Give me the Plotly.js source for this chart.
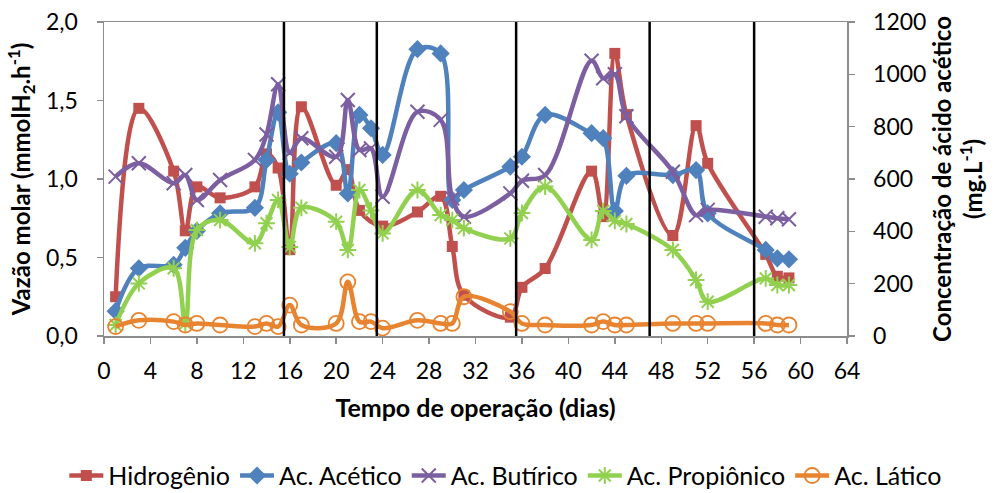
<!DOCTYPE html>
<html>
<head>
<meta charset="utf-8">
<script src="https://cdn.plot.ly/plotly-3.0.1.min.js"></script>
<style>
html,body{margin:0;padding:0;background:#fff;}
#chart{width:996px;height:493px;}
</style>
</head>
<body>
<div id="chart"></div>
<script>
// ---- Data ----
const daysH2 = [1,3,6,7,8,10,13,14,15,16,17,20,21,22,24,27,29,30,31,35,36,38,42,43,44,45,49,51,52,57,58,59];
const hidrogenio = [0.25,1.45,1.05,0.67,0.95,0.88,0.95,1.16,1.07,0.55,1.46,0.96,1.06,0.80,0.70,0.79,0.89,0.57,0.26,0.12,0.31,0.43,1.05,0.76,1.80,1.41,0.64,1.34,1.10,0.52,0.38,0.37];

const daysAc = [1,3,6,7,8,10,13,14,15,16,17,20,21,22,23,24,27,29,30,31,35,36,38,42,43,44,45,49,51,52,57,58,59];
const acetico   = [95,259,272,337,402,469,490,673,855,620,663,737,545,845,794,692,1096,1080,520,558,647,685,845,775,756,478,612,615,634,469,329,297,293];
const butirico  = [609,660,584,615,520,596,673,770,962,700,756,685,902,711,717,532,857,826,526,456,545,593,615,1052,985,1000,840,628,462,482,456,450,446];
const propionico= [42,201,259,48,405,443,354,431,520,340,490,437,329,558,480,392,558,462,443,412,373,470,571,367,478,440,428,329,214,131,220,195,195];
const latico    = [36,60,55,42,48,42,36,48,36,118,42,48,207,55,55,30,60,48,48,150,93,48,42,42,55,42,42,48,48,48,48,42,42];

const phaseLimits = [15.5,23.5,35.5,47,56];

const xTicks = [0,4,8,12,16,20,24,28,32,36,40,44,48,52,56,60,64];
const seriesNames = ['Hidrogênio','Ac. Acético','Ac. Butírico','Ac. Propiônico','Ac. Lático'];

// ---- Styles ----
const FONT = 'Lato, "Open Sans", sans-serif';
const colors = ['#C0504D','#4F81BD','#7C5FA0','#92D050','#E8832F'];
const LW = 4.5;
const TICK_SIZE = 23, TITLE_SIZE = 24, LEG_SIZE = 25;

function tr(x, y, i, yaxis, marker){
  return {
    x: x, y: y, name: seriesNames[i], type: 'scatter', mode: 'lines+markers',
    yaxis: yaxis,
    line: {color: colors[i], width: LW, shape: 'spline', smoothing: 1},
    marker: Object.assign({color: colors[i]}, marker),
    cliponaxis: false
  };
}

const data = [
  tr(daysH2, hidrogenio, 0, 'y', {symbol: 'square', size: 11}),
  tr(daysAc, acetico, 1, 'y2', {symbol: 'diamond', size: 14}),
  tr(daysAc, butirico, 2, 'y2', {symbol: 'x-thin-open', size: 14, line: {color: colors[2], width: 2}}),
  tr(daysAc, propionico, 3, 'y2', {symbol: 'asterisk-open', size: 14, line: {color: colors[3], width: 2}}),
  tr(daysAc, latico, 4, 'y2', {symbol: 'circle-open', size: 15, line: {color: colors[4], width: 1.8}})
];

const shapes = phaseLimits.map(v => ({
  type: 'line', xref: 'x', yref: 'paper', x0: v, x1: v, y0: 0, y1: 1,
  line: {color: '#000', width: 2.5}, layer: 'above'
}));

const axisLine = '#8C8C8C';
const layout = {
  width: 996, height: 493,
  margin: {l: 104, r: 149, t: 22, b: 157, autoexpand: false},
  paper_bgcolor: '#fff', plot_bgcolor: '#fff',
  separators: ', ',
  font: {family: FONT, size: TICK_SIZE, color: '#000'},
  showlegend: true,
  legend: {
    orientation: 'h', xref: 'paper', yref: 'paper',
    x: 1.135, xanchor: 'right', y: -0.445, yanchor: 'middle',
    font: {family: FONT, size: LEG_SIZE, color: '#000'},
    itemwidth: 34, tracegroupgap: 0, bgcolor: 'rgba(0,0,0,0)'
  },
  xaxis: {
    range: [0, 64], tickvals: xTicks, ticktext: xTicks.map(String),
    showgrid: false, zeroline: false,
    showline: true, linecolor: axisLine, linewidth: 1.5, mirror: true,
    ticks: 'outside', ticklen: 6, tickcolor: axisLine, tickwidth: 1.5,
    ticklabelstandoff: 8,
    tickfont: {family: FONT, size: TICK_SIZE},
    title: {text: '<b>Tempo de operação (dias)</b>', font: {family: FONT, size: 25}, standoff: 16}
  },
  yaxis: {
    range: [0, 2], dtick: 0.5, tickformat: '.1f',
    showgrid: false, zeroline: false,
    showline: true, linecolor: axisLine, linewidth: 1.5,
    ticks: 'outside', ticklen: 6, tickcolor: axisLine, tickwidth: 1.5,
    ticklabelstandoff: 14,
    tickfont: {family: FONT, size: TICK_SIZE},
    title: {text: '<b>Vazão molar (mmolH<sub>2</sub>.h<sup>-1</sup>)</b>', font: {family: FONT, size: TITLE_SIZE}, standoff: 8}
  },
  yaxis2: {
    range: [0, 1200], dtick: 200, overlaying: 'y', side: 'right',
    showgrid: false, zeroline: false,
    showline: true, linecolor: axisLine, linewidth: 1.5,
    ticks: 'outside', ticklen: 6, tickcolor: axisLine, tickwidth: 1.5,
    ticklabelstandoff: 14,
    tickfont: {family: FONT, size: TICK_SIZE},
    title: {text: '<b>Concentração de ácido acético<br>(mg.L<sup>-1</sup>)</b>', font: {family: FONT, size: TITLE_SIZE}, standoff: 8}
  },
  shapes: shapes
};

Plotly.newPlot('chart', data, layout, {displayModeBar: false, staticPlot: true});
</script>
</body>
</html>
